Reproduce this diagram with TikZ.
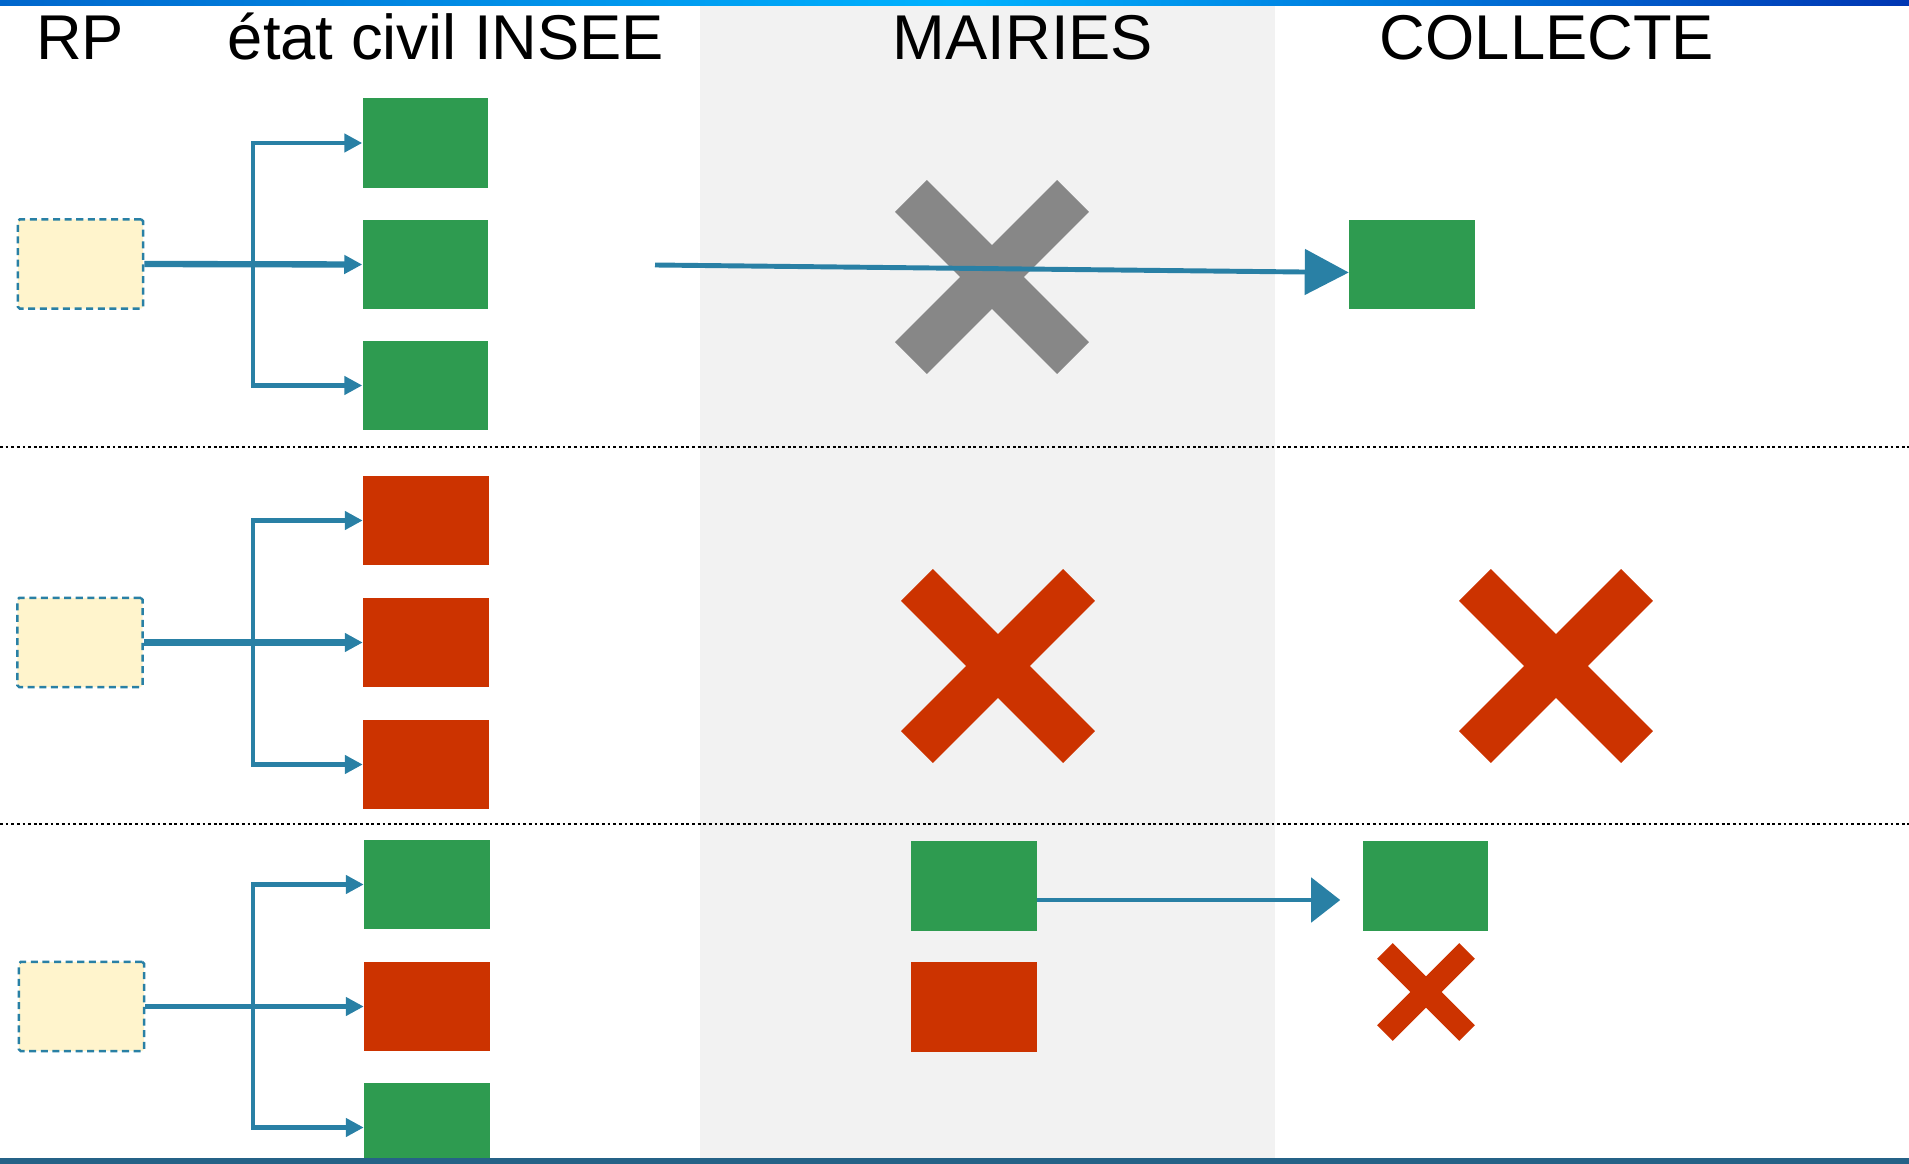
\documentclass[tikz,border=0pt]{standalone}
\usepackage{fontspec}
\setmainfont{Liberation Sans}
\usetikzlibrary{arrows.meta,shapes.misc}
\definecolor{vert}{RGB}{46,155,80}
\definecolor{rouge}{RGB}{204,51,0}
\definecolor{bleu}{RGB}{41,128,165}
\definecolor{jaune}{RGB}{255,244,204}
\definecolor{gris}{RGB}{135,135,135}
\definecolor{fond}{RGB}{242,242,242}
\definecolor{marine}{RGB}{37,98,135}

\begin{document}
\begin{tikzpicture}[x=0.01cm,y=-0.01cm,
    titre/.style={anchor=base,font=\fontsize{18}{20}\selectfont},
    acte/.style={minimum width=1.25cm,minimum height=0.89cm,inner sep=0pt},
    rp/.style={acte,fill=jaune,draw=bleu,line width=0.7pt,dash pattern=on 2pt off 1.3pt,rounded corners=0.5pt},
    croix/.style={cross out,inner sep=0pt,outer sep=0pt,line width=0.45cm,minimum size=1.62cm},
    pointe/.tip={Triangle[length=0.18cm,width=0.18cm]},
    fleche/.style={draw=bleu,line width=1.3pt,-pointe},
    grande/.style={draw=bleu,line width=1.4pt},
    ligne/.style={line width=0.6pt,dash pattern=on 0.8pt off 0.8pt}]
  \useasboundingbox (0,0) rectangle (1909,1164);
  % fond
  \fill[fond] (700,6) rectangle (1275,1158);
  \shade[left color=blue!50!cyan!80!black,right color=blue!70!cyan!70!black,middle color=cyan!70!blue] (0,0) rectangle (1909,6);
  \draw[ligne] (0,447) -- (1909,447);
  \draw[ligne] (0,824) -- (1909,824);
  % titres
  \node[titre] (tRP) at (80,60) {RP};
  \node[titre] (tEC) at (446,60) {état civil INSEE};
  \node[titre] (tM) at (1023,60) {MAIRIES};
  \node[titre] (tC) at (1547,60) {COLLECTE};
  \coordinate (v) at (253,0);
  % cas 1
  \node[rp] (r1) at (80.5,264) {};
  \node[acte,fill=vert] (e11) at (425.5,143) {};
  \node[acte,fill=vert] (e12) at (425.5,264.5) {};
  \node[acte,fill=vert] (e13) at (425.5,385.5) {};
  \node[croix,draw=gris] (x1) at (992,277) {};
  \node[acte,fill=vert] (c1) at (1412,264.5) {};
  \draw[fleche,line width=1.8pt] (r1.east) -- (e12.west);
  \draw[fleche,pointe-pointe] (e11.west) -| (v |- r1) |- (e13.west);
  \coordinate (d1) at (655,265);
  \draw[grande,-{Triangle[length=0.44cm,width=0.45cm]}] (d1) -- ([yshift=-0.08cm]c1.west);
  % cas 2
  \node[rp] (r2) at (80,642.5) {};
  \node[acte,fill=rouge] (e21) at (426,520.5) {};
  \node[acte,fill=rouge] (e22) at (426,642.5) {};
  \node[acte,fill=rouge] (e23) at (426,764.5) {};
  \node[croix,draw=rouge] (x2) at (998,666) {};
  \node[croix,draw=rouge] (x3) at (1556,666) {};
  \draw[fleche,line width=1.8pt] (r2.east) -- (e22.west);
  \draw[fleche,pointe-pointe] (e21.west) -| (v |- r2) |- (e23.west);
  % cas 3
  \node[rp] (r3) at (81.5,1006.5) {};
  \node[acte,fill=vert] (e31) at (427,884.5) {};
  \node[acte,fill=rouge] (e32) at (427,1006.5) {};
  \node[acte,fill=vert] (e33) at (427,1127.5) {};
  \node[acte,fill=vert] (m31) at (974,886) {};
  \node[acte,fill=rouge] (m32) at (974,1007) {};
  \node[acte,fill=vert] (c31) at (1425.5,886) {};
  \node[croix,draw=rouge,line width=0.22cm,minimum size=0.82cm] (x4) at (1426,992) {};
  \draw[fleche,line width=1.5pt] (r3.east) -- (e32.west);
  \draw[fleche,pointe-pointe] (e31.west) -| (v |- r3) |- (e33.west);
  \draw[grande,-{Triangle[length=0.29cm,width=0.44cm]}] ([yshift=-0.14cm]m31.east) -- ([xshift=-0.22cm,yshift=-0.14cm]c31.west);
  \fill[marine] (0,1158) rectangle (1909,1164);
\end{tikzpicture}
\end{document}
